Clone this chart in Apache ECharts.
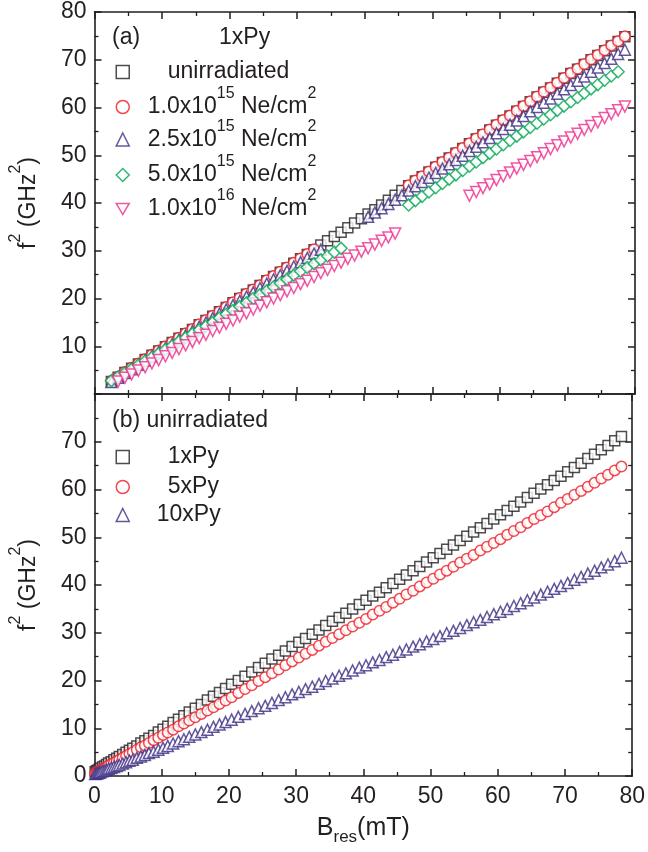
<!DOCTYPE html>
<html><head><meta charset="utf-8">
<script src="https://cdn.jsdelivr.net/npm/echarts@6/dist/echarts.min.js"></script>
<style>html,body{margin:0;padding:0;background:#fff}#c{width:648px;height:852px}</style>
</head><body><div id="c"></div><script>
// ---------- Panel (a): 1xPy, irradiation series ----------
const aB = [2.5,3.5,4.5,5.5,6.5,7.5,8.5,9.5,10.5,11.5,12.5,13.5,14.5,15.5,16.5,17.5,18.5,19.5,20.5,21.5,22.5,23.5,24.5,25.5,26.5,27.5,28.5,29.5,30.5,31.5,32.5,33.5,34.5,35.5,36.5,37.5,38.5,39.5,40.5,41.5,42.5,43.5,44.5,45.5,46.5,47.5,48.5,49.5,50.5,51.5,52.5,53.5,54.5,55.5,56.5,57.5,58.5,59.5,60.5,61.5,62.5,63.5,64.5,65.5,66.5,67.5,68.5,69.5,70.5,71.5,72.5,73.5,74.5,75.5,76.5,77.5,78.5];
const aUnirr = [2.6,3.5,4.5,5.4,6.3,7.2,8.1,9.0,9.9,10.8,11.7,12.6,13.5,14.5,15.4,16.3,17.2,18.1,19.1,20.0,20.9,21.8,22.7,23.7,24.6,25.5,26.4,27.4,28.3,29.2,30.2,
 31.2,32.1,33.0,33.9,34.8,35.8,36.7,37.7,38.6,39.6,40.6,41.6,42.6,
 43.6,44.6,45.5,46.5,47.5,48.5,49.4,50.4,51.4,52.4,53.4,54.3,55.3,56.3,57.3,58.2,59.2,60.2,61.2,62.2,63.2,64.1,65.1,66.1,67.1,68.0,69.0,70.0,70.9,71.9,72.9,73.8,74.8];
const a1e15 = [2.7,3.6,4.6,5.5,6.4,7.3,8.2,9.1,10.0,10.9,11.8,12.7,13.6,14.6,15.5,16.4,17.3,18.2,19.2,20.1,21.0,21.9,22.8,23.8,24.7,25.6,26.5,27.5,28.4,29.3,30.3,
 null,null,null,null,null,null,null,null,null,null,null,null,null,
 43.7,44.7,45.6,46.6,47.6,48.6,49.5,50.5,51.5,52.5,53.5,54.4,55.4,56.4,57.4,58.3,59.3,60.3,61.3,62.3,63.3,64.2,65.2,66.2,67.2,68.1,69.1,70.1,71.0,72.0,73.0,73.9,74.9];
const a25e15 = [2.5,3.4,4.4,5.2,6.1,7.0,7.9,8.8,9.6,10.5,11.4,12.3,13.2,14.1,15.0,15.9,16.8,17.7,18.6,19.5,20.4,21.3,22.2,23.1,24.0,24.9,25.8,26.7,27.6,28.5,29.4,30.2,
 null,null,null,null,null,null,
 37.1,38.0,38.9,39.8,40.7,41.6,42.6,43.5,44.4,45.3,46.3,47.2,48.1,49.0,49.9,50.9,51.8,52.7,53.6,54.6,55.5,56.4,57.3,58.2,59.2,60.1,61.0,61.9,62.9,63.8,64.7,65.6,66.5,67.5,68.4,69.3,70.2,71.2,72.1];
const a5e15 = [2.8,3.6,4.4,5.2,6.1,6.9,7.7,8.5,9.3,10.1,11.0,11.8,12.6,13.4,14.2,15.0,15.9,16.7,17.5,18.3,19.1,20.0,20.8,21.6,22.4,23.2,24.0,24.9,25.7,26.5,27.3,28.1,28.9,29.7,30.5,
 null,null,null,null,null,null,null,null,null,
 39.6,40.5,41.4,42.3,43.2,44.1,45.0,45.9,46.8,47.7,48.6,49.5,50.4,51.3,52.2,53.1,54.0,54.9,55.8,56.7,57.6,58.5,59.4,60.3,61.2,62.1,63.0,63.9,64.8,65.7,66.6,67.5,
 null];
const a1e16 = [null,
 2.6,3.4,4.1,4.9,5.6,6.4,7.1,7.9,8.6,9.4,10.2,10.9,11.7,12.4,13.2,13.9,14.7,15.4,16.2,16.9,17.7,18.5,19.2,20.0,20.7,21.5,22.2,23.0,23.7,24.5,25.3,26.0,26.8,27.5,28.3,29.0,29.8,30.5,31.3,32.1,32.8,33.6,
 null,null,null,null,null,null,null,null,null,null,
 41.5,42.3,43.1,43.9,44.8,45.6,46.4,47.2,48.0,48.8,49.6,50.4,51.3,52.1,52.9,53.7,54.5,55.3,56.1,56.9,57.8,58.6,59.4,60.2];

// ---------- Panel (b): unirradiated, thickness series ----------
const bB = [0.1,0.3,0.5,0.7,0.9,1.2,1.5,1.8,2.1,2.5,2.9,3.3,3.7,4.2,4.7,5.2,5.7,6.3,6.9,7.5,8.1,8.8,9.5,10.2,10.9,11.7,12.5,13.3,14.1,15.0,15.9,16.8,17.7,18.6,19.5,20.4,
 21.4,22.4,23.4,24.4,25.4,26.4,27.4,28.4,29.4,30.4,31.4,32.4,33.4,34.4,35.4,36.4,37.4,38.4,39.4,40.4,41.4,42.4,43.4,44.4,45.4,46.4,47.4,48.4,49.4,50.4,51.4,52.4,53.4,54.4,55.4,56.4,57.4,58.4,59.4,60.4,61.4,62.4,63.4,64.4,65.4,66.4,67.4,68.4,69.4,70.4,71.4,72.4,73.4,74.4,75.4,76.4,77.4,78.4];
const b1xPy = [0.9,1.1,1.2,1.4,1.6,1.9,2.1,2.4,2.7,3.0,3.4,3.7,4.1,4.5,5.0,5.4,5.8,6.3,6.9,7.4,7.9,8.5,9.2,9.8,10.4,11.2,11.9,12.6,13.4,14.2,15.0,15.9,16.7,17.5,18.3,19.2,
 20.0,20.9,21.8,22.7,23.6,24.5,25.3,26.2,27.1,28.0,28.8,29.7,30.6,31.5,32.4,33.2,34.1,35.0,35.9,36.8,37.7,38.5,39.4,40.3,41.2,42.1,43.0,43.9,44.8,45.7,46.6,47.5,48.4,49.3,50.2,51.1,52.0,52.9,53.8,54.7,55.6,56.5,57.4,58.3,59.2,60.1,61.0,61.9,62.8,63.7,64.6,65.5,66.5,67.4,68.3,69.2,70.2,71.1];
const b5xPy = [0.6,0.7,0.9,1.1,1.2,1.4,1.7,1.9,2.2,2.5,2.8,3.1,3.4,3.8,4.2,4.6,5.0,5.5,6.0,6.4,6.9,7.5,8.0,8.6,9.1,9.7,10.4,11.0,11.6,12.3,13.0,13.7,14.4,15.1,15.8,16.5,
 17.4,18.2,19.0,19.9,20.7,21.5,22.3,23.2,24.0,24.8,25.6,26.4,27.3,28.1,28.9,29.7,30.5,31.3,32.1,32.9,33.8,34.6,35.4,36.3,37.1,38.0,38.8,39.7,40.5,41.3,42.2,43.0,43.8,44.7,45.5,46.3,47.2,48.0,48.8,49.6,50.5,51.3,52.1,53.0,53.8,54.6,55.4,56.3,57.2,58.0,58.9,59.7,60.6,61.4,62.3,63.1,64.0,64.8];
const b10xPy = [0.4,0.5,0.6,0.7,0.8,1.0,1.1,1.3,1.5,1.7,1.9,2.1,2.3,2.6,2.9,3.2,3.4,3.8,4.1,4.4,4.8,5.1,5.5,5.9,6.3,6.8,7.3,7.7,8.2,8.7,9.2,9.7,10.3,10.8,11.3,11.8,
 12.4,13.0,13.6,14.2,14.7,15.3,15.9,16.5,17.1,17.6,18.2,18.7,19.3,19.9,20.4,21.0,21.5,22.1,22.7,23.2,23.8,24.3,24.9,25.4,26.0,26.5,27.1,27.6,28.2,28.7,29.3,29.9,30.4,31.0,31.6,32.2,32.7,33.3,33.9,34.4,35.0,35.6,36.2,36.8,37.4,38.0,38.6,39.2,39.8,40.4,41.1,41.7,42.4,43.0,43.7,44.3,45.0,45.7];

const xTicks = [0,10,20,30,40,50,60,70,80];

// ---------- styling ----------
const FONT = '"Liberation Sans", Arial, sans-serif';
const INK = '#231f20';
const C = {black:'#231f20', red:'#ed1c24', purple:'#3c2d83', green:'#00a651', pink:'#ec2d8c'};

function pts(xs, ys){ const out=[]; for(let i=0;i<xs.length;i++){ if(ys[i]!=null) out.push([xs[i], ys[i]]); } return out; }

function axis(extra){
  return Object.assign({
    type:'value', min:0, max:80, interval:10,
    axisLine:{show:true, onZero:false, lineStyle:{color:INK, width:1.6}},
    axisTick:{show:true, inside:true, length:7, lineStyle:{color:INK, width:1.5}},
    minorTick:{show:true, splitNumber:2, length:4, lineStyle:{color:INK, width:1.3}},
    splitLine:{show:false},
    axisLabel:{show:false}
  }, extra);
}
const labelStyle = {show:true, fontFamily:FONT, fontSize:23, color:INK};

function sc(name, data, gi, symbol, color, size, rot){
  return {type:'scatter', name, data, xAxisIndex:gi*2, yAxisIndex:gi*2, symbol, symbolSize:size,
    symbolRotate:rot||0, animation:false, silent:true,
    itemStyle:{color:'#ffffff', borderColor:color, borderWidth:1.5}};
}

const richSup = {s:{fontFamily:FONT, fontSize:16, lineHeight:16, verticalAlign:'top', color:INK}};
function lg(name, left, top, pad, icon){
  const o = {data:[name], orient:'vertical', left, top, padding:0, itemWidth:13, itemHeight:13,
    selectedMode:false, itemStyle:{borderWidth:1.5},
    textStyle:{fontFamily:FONT, fontSize:23, lineHeight:42, color:INK, padding:[0,0,0,pad], rich:richSup}};
  if (icon) o.icon = icon;
  return o;
}

const N15 = '1.0x10{s|15} Ne/cm{s|2}';
const N25 = '2.5x10{s|15} Ne/cm{s|2}';
const N50 = '5.0x10{s|15} Ne/cm{s|2}';
const N16 = '1.0x10{s|16} Ne/cm{s|2}';

const chart = echarts.init(document.getElementById('c'), null, {renderer:'canvas'});
chart.setOption({
  animation:false,
  backgroundColor:'#ffffff',
  grid:[{left:88, right:13, top:12, height:382}, {left:88, right:13, top:394, height:382}],
  xAxis:[
    axis({gridIndex:0, position:'bottom'}),
    axis({gridIndex:0, position:'top'}),
    axis({gridIndex:1, position:'bottom', axisLabel:Object.assign({margin:9}, labelStyle),
      name:'B{sub|res}(mT)', nameLocation:'middle', nameGap:34,
      nameTextStyle:{fontFamily:FONT, fontSize:25, lineHeight:36, color:INK,
        rich:{sub:{fontFamily:FONT, fontSize:17, lineHeight:17, verticalAlign:'bottom', color:INK}}}}),
    axis({gridIndex:1, position:'top'})
  ],
  yAxis:[
    axis({gridIndex:0, position:'left', axisLabel:Object.assign({margin:8, showMinLabel:false}, labelStyle),
      name:'f{s|2} (GHz{s|2})', nameLocation:'middle', nameGap:33,
      nameTextStyle:{fontFamily:FONT, fontSize:23, lineHeight:42, color:INK, rich:richSup}}),
    axis({gridIndex:0, position:'right'}),
    axis({gridIndex:1, position:'left', axisLabel:Object.assign({margin:8, showMaxLabel:false}, labelStyle),
      name:'f{s|2} (GHz{s|2})', nameLocation:'middle', nameGap:33,
      nameTextStyle:{fontFamily:FONT, fontSize:23, lineHeight:42, color:INK, rich:richSup}}),
    axis({gridIndex:1, position:'right'})
  ],
  title:[
    {text:'(a)', left:112, top:26, padding:0, textStyle:{fontFamily:FONT, fontSize:23, fontWeight:'normal', color:INK}},
    {text:'1xPy', left:219, top:26, padding:0, textStyle:{fontFamily:FONT, fontSize:23, fontWeight:'normal', color:INK}},
    {text:'(b) unirradiated', left:112, top:409, padding:0, textStyle:{fontFamily:FONT, fontSize:23, fontWeight:'normal', color:INK}}
  ],
  legend:[
    lg('unirradiated', 115.5, 51, 33.5),
    lg(N15, 115.5, 86, 13.5),
    lg(N25, 115.5, 118.5, 13.5),
    lg(N50, 115.5, 154, 13.5),
    lg(N16, 115.5, 188, 13.5, 'path://M0,0L14,0L7,12Z'),
    lg('1xPy', 115.5, 436, 33.5),
    lg('5xPy', 115.5, 466, 33.5),
    lg('10xPy', 115.5, 494, 22.5)
  ],
  series:[
    sc('unirradiated', pts(aB, aUnirr), 0, 'rect', C.black, 10),
    sc(N15, pts(aB, a1e15), 0, 'circle', C.red, 10.5),
    sc(N25, pts(aB, a25e15), 0, 'triangle', C.purple, 11),
    sc(N50, pts(aB, a5e15), 0, 'diamond', C.green, 12),
    sc(N16, pts(aB, a1e16), 0, 'triangle', C.pink, 11, 180),
    sc('1xPy', pts(bB, b1xPy), 1, 'rect', C.black, 10),
    sc('5xPy', pts(bB, b5xPy), 1, 'circle', C.red, 10.5),
    sc('10xPy', pts(bB, b10xPy), 1, 'triangle', C.purple, 11)
  ]
});
</script></body></html>
